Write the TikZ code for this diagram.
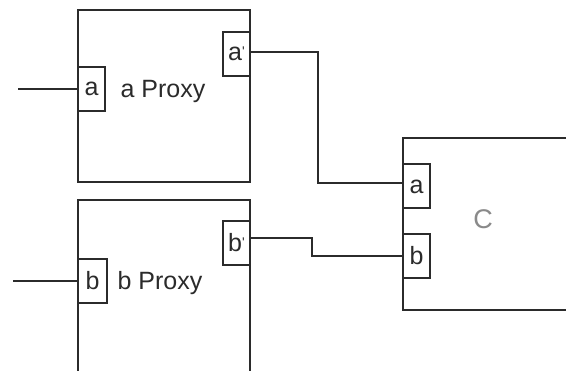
\documentclass[tikz,border=0pt]{standalone}
\usepackage{fontspec}
\setmainfont{Liberation Sans}
\usetikzlibrary{positioning}
\definecolor{ink}{HTML}{2B2B2B}
\definecolor{cgray}{HTML}{8A8A8A}
\begin{document}
\begin{tikzpicture}[x=1pt,y=-1pt,
  block/.style={draw=ink,line width=2pt,rectangle,inner sep=0pt,fill=white},
  port/.style={draw=ink,line width=2pt,rectangle,inner sep=0pt,minimum width=27pt,minimum height=44pt,
    font=\fontsize{25}{27}\selectfont,text=ink},
  wire/.style={draw=ink,line width=2pt},
  lbl/.style={font=\fontsize{25}{27}\selectfont,text=ink,inner sep=0pt}]
\useasboundingbox (0,0) rectangle (566,371);
\clip (0,0) rectangle (566,371);
\fill[white] (0,0) rectangle (566,371);
% blocks
\node[block,minimum width=172pt,minimum height=172pt] (A) at (164,96) {};
\node[block,minimum width=172pt,minimum height=200pt] (B) at (164,300) {};
\node[block,minimum width=217pt,minimum height=172pt] (C) at (511.5,224) {};
% labels
\node[lbl] (Alab) at (163,91) {a Proxy};
\node[lbl] (Blab) at (160,283) {b Proxy};
\node[lbl,text=cgray,font=\fontsize{27}{29}\selectfont] (Clab) at (483,219) {C};
% ports
\node[port] (pa) at (91.5,89) {a};
\node[port] (pap) at (236.5,54) {a\raisebox{4pt}{\fontsize{14}{14}\selectfont\textquotesingle}};
\node[port,minimum width=29pt] (pb) at (92.5,281) {b};
\node[port] (pbp) at (236.5,243) {b\raisebox{4pt}{\fontsize{14}{14}\selectfont\textquotesingle}};
\node[port] (ca) at (416.5,186.5) {a};
\node[port] (cb) at (416.5,256) {b};
% inputs
\coordinate (ina) at (18,89);
\coordinate (inb) at (13,281);
\draw[wire] (ina) -- (pa.west);
\draw[wire] (inb) -- (pb.west);
% connections
\draw[wire] ([yshift=2pt]pap.east) -- ++(67,0) |- ([yshift=3.5pt]ca.west);
\draw[wire] ([yshift=5pt]pbp.east) -- ++(61,0) |- (cb.west);
\end{tikzpicture}
\end{document}
